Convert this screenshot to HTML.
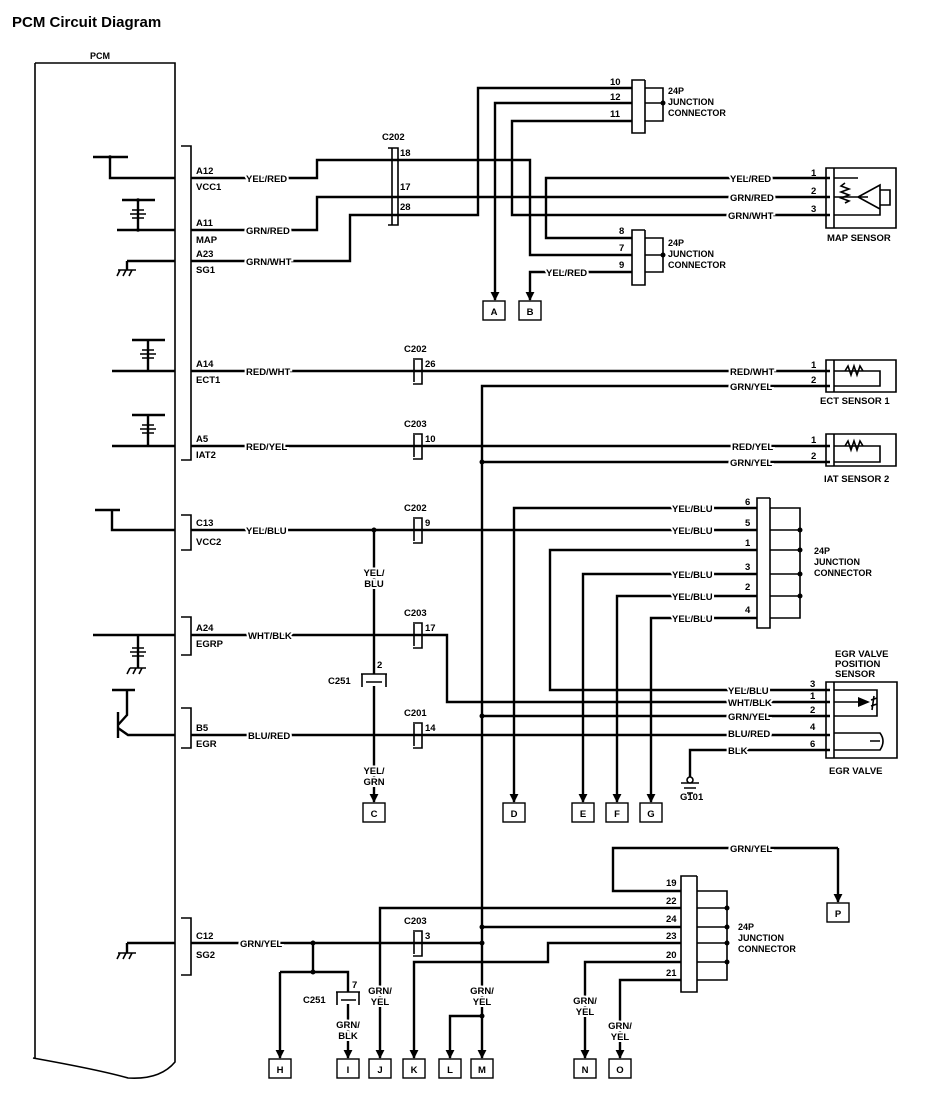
<!DOCTYPE html>
<html><head><meta charset="utf-8"><style>
html,body{margin:0;padding:0;background:#fff}
svg{display:block}
text{font-family:"Liberation Sans",Arial,sans-serif;font-weight:bold;font-size:9.5px;fill:#000}
.l{stroke:#fff;stroke-width:4;paint-order:stroke}
</style></head><body>
<svg width="928" height="1100" viewBox="0 0 928 1100" xmlns="http://www.w3.org/2000/svg">
<defs>
<marker id="ar" viewBox="0 0 10 10" refX="9" refY="5" markerWidth="9" markerHeight="10" orient="auto" markerUnits="userSpaceOnUse"><path d="M0,0 L10,5 L0,10 z"/></marker>
</defs>
<text x="12" y="27" style="font-size:15px">PCM Circuit Diagram</text>
<text x="90" y="59" style="font-size:9px">PCM</text>
<g fill="none" stroke="#000" stroke-width="1.6">
<path d="M35,63 H175 V1062 Q160,1080 128,1078 Q100,1070 33,1058"/>
<path d="M35,63 V1058"/>
<path d="M181,146 H191 V460 H181"/>
<path d="M181,515 H191 V550 H181"/>
<path d="M181,617 H191 V655 H181"/>
<path d="M181,708 H191 V748 H181"/>
<path d="M181,918 H191 V975 H181"/>
</g>
<g fill="none" stroke="#000" stroke-width="2.4">
<path d="M93,157 H128 M110,157 V178 H175"/>
<path d="M122,200 H155 M138,200 V230 M117,230 H175"/>
<path d="M127,261 H175 M127,261 V270"/>
<path d="M132,340 H165 M148,340 V371 M112,371 H175"/>
<path d="M132,415 H165 M148,415 V446 M112,446 H175"/>
<path d="M95,510 H120 M112,510 V530 H175"/>
<path d="M93,635 H175 M138,635 V668"/>
<path d="M112,690 H135 M127,690 V715 L118,725 M118,712 V738 M118,728 L128,735 H175"/>
<path d="M127,943 H175 M127,943 V953"/>
<path d="M191,178 H317 V160 H530 V255 H632"/>
<path d="M191,230 H317 V197 H830"/>
<path d="M191,261 H350 V215 H478 V88 H632"/>
<path d="M632,103 H495 V300" marker-end="url(#ar)"/>
<path d="M632,121 H512 V215 H830"/>
<path d="M632,238 H546 V178 H830"/>
<path d="M632,272 H530 V300" marker-end="url(#ar)"/>
<path d="M191,371 H830"/>
<path d="M830,386 H482 V1058" marker-end="url(#ar)"/>
<path d="M191,446 H830"/>
<path d="M482,462 H830"/>
<path d="M191,530 H757"/>
<path d="M374,530 V674 M374,686 V802" marker-end="url(#ar)"/>
<path d="M757,508 H514 V802" marker-end="url(#ar)"/>
<path d="M757,550 H550 V690 H830"/>
<path d="M757,574 H583 V802" marker-end="url(#ar)"/>
<path d="M757,596 H617 V802" marker-end="url(#ar)"/>
<path d="M757,618 H651 V802" marker-end="url(#ar)"/>
<path d="M191,635 H447 V702 H830"/>
<path d="M191,735 H830"/>
<path d="M482,716 H830"/>
<path d="M830,750 H690 V782"/>
<path d="M838,848 H613 V891 H681"/>
<path d="M838,848 V902" marker-end="url(#ar)"/>
<path d="M191,943 H482"/>
<path d="M313,943 V972 M280,972 H348 V992 M280,972 V1058" marker-end="url(#ar)"/>
<path d="M348,1004 V1058" marker-end="url(#ar)"/>
<path d="M681,908 H380 V1058" marker-end="url(#ar)"/>
<path d="M482,927 H681"/>
<path d="M681,943 H548 V962 H414 V1058" marker-end="url(#ar)"/>
<path d="M681,962 H585 V1058" marker-end="url(#ar)"/>
<path d="M681,980 H620 V1058" marker-end="url(#ar)"/>
<path d="M482,1016 H450 V1058" marker-end="url(#ar)"/>
</g>
<g stroke="#000" stroke-width="1.6" fill="none">
<path d="M132,210 H144 M130,214 H146 M132,218 H144"/>
<path d="M142,350 H154 M140,354 H156 M142,358 H154"/>
<path d="M142,425 H154 M140,429 H156 M142,433 H154"/>
<path d="M132,648 H144 M130,652 H146 M132,656 H144 M130,668 H146"/>
<path d="M118,270 H136 M120,270 L117,276 M126,270 L123,276 M132,270 L129,276"/>
<path d="M118,953 H136 M120,953 L117,959 M126,953 L123,959 M132,953 L129,959"/>
<path d="M130,668 L127,674 M136,668 L133,674 M142,668 L139,674"/>
<path d="M681,783 H699 M684,788 H696 M687,793 H693"/>
<circle cx="690" cy="780" r="3" fill="#fff"/>
</g>
<g stroke="#000" stroke-width="1.6" fill="none">
<path d="M392,148 V225 M388,148 H398 V225 H388"/>
<path d="M414,360 V382 M413,359 H422 V384 H413"/>
<path d="M414,435 V457 M413,434 H422 V459 H413"/>
<path d="M414,519 V541 M413,518 H422 V543 H413"/>
<path d="M414,624 V646 M413,623 H422 V648 H413"/>
<path d="M414,724 V746 M413,723 H422 V748 H413"/>
<path d="M414,932 V954 M413,931 H422 V956 H413"/>
<path d="M361,674 H387 M362,674 V687 M386,674 V687 M366,682 H382"/>
<path d="M336,992 H360 M337,992 V1005 M359,992 V1005 M341,1000 H356"/>
<path d="M645,80 H632 V133 H645 V80 M645,88 H663 V121 H645 M645,103 H663 M645,121 H663"/>
<path d="M645,230 H632 V285 H645 V230 M645,238 H663 V272 H645 M645,255 H663"/>
<path d="M770,498 H757 V628 H770 V498 M770,508 H800 V618 H770 M770,530 H800 M770,550 H800 M770,574 H800 M770,596 H800"/>
<path d="M697,876 H681 V992 H697 V876 M697,891 H727 V980 H697 M697,908 H727 M697,927 H727 M697,943 H727 M697,962 H727"/>
<path d="M834,168 H826 V228 H834 M834,168 H896 V228 H834 Z M834,178 H858 M834,197 H868 M834,215 H880 V185 L858,197 L880,209 M880,190 H890 V205 H880"/>
<path d="M845,183 L841,186 L849,189 L841,192 L849,195 L841,198 L849,201 L845,203"/>
<path d="M834,360 H826 V392 H834 M834,360 H896 V392 H834 Z M834,371 H880 V386 H834 M845,371 L848,366 L851,375 L854,366 L857,375 L860,366 L863,371"/>
<path d="M834,434 H826 V466 H834 M834,434 H896 V466 H834 Z M834,446 H880 V462 H834 M845,446 L848,441 L851,450 L854,441 L857,450 L860,441 L863,446"/>
<path d="M834,682 H826 V758 H834 M834,682 H897 V758 H834 Z M834,690 H877 V716 H834 M834,702 H868 M874,696 L872,710 M877,698 L871,700 M877,704 L871,706 M834,733 H880 Q886,741 880,750 H834 M870,741 H880"/>
</g>
<path d="M858,697 L870,702 L858,707 z"/>
<g>
<circle cx="663" cy="103" r="2.5"/><circle cx="663" cy="255" r="2.5"/>
<circle cx="800" cy="530" r="2.5"/><circle cx="800" cy="550" r="2.5"/><circle cx="800" cy="574" r="2.5"/><circle cx="800" cy="596" r="2.5"/>
<circle cx="727" cy="908" r="2.5"/><circle cx="727" cy="927" r="2.5"/><circle cx="727" cy="943" r="2.5"/><circle cx="727" cy="962" r="2.5"/>
<circle cx="482" cy="462" r="2.5"/><circle cx="374" cy="530" r="2.5"/><circle cx="482" cy="716" r="2.5"/>
<circle cx="313" cy="943" r="2.5"/><circle cx="313" cy="972" r="2.5"/><circle cx="482" cy="927" r="2.5"/><circle cx="482" cy="943" r="2.5"/><circle cx="482" cy="1016" r="2.5"/>
<circle cx="110" cy="157" r="1.8"/><circle cx="138" cy="200" r="1.8"/><circle cx="138" cy="230" r="1.8"/>
</g>
<g fill="#fff" stroke="#000" stroke-width="1.4">
<rect x="483" y="301" width="22" height="19"/><rect x="519" y="301" width="22" height="19"/>
<rect x="363" y="803" width="22" height="19"/><rect x="503" y="803" width="22" height="19"/>
<rect x="572" y="803" width="22" height="19"/><rect x="606" y="803" width="22" height="19"/><rect x="640" y="803" width="22" height="19"/>
<rect x="827" y="903" width="22" height="19"/>
<rect x="269" y="1059" width="22" height="19"/><rect x="337" y="1059" width="22" height="19"/><rect x="369" y="1059" width="22" height="19"/>
<rect x="403" y="1059" width="22" height="19"/><rect x="439" y="1059" width="22" height="19"/><rect x="471" y="1059" width="22" height="19"/>
<rect x="574" y="1059" width="22" height="19"/><rect x="609" y="1059" width="22" height="19"/>
</g>
<g text-anchor="middle">
<text x="494" y="315">A</text><text x="530" y="315">B</text>
<text x="374" y="817">C</text><text x="514" y="817">D</text><text x="583" y="817">E</text><text x="617" y="817">F</text><text x="651" y="817">G</text>
<text x="838" y="917">P</text>
<text x="280" y="1073">H</text><text x="348" y="1073">I</text><text x="380" y="1073">J</text><text x="414" y="1073">K</text><text x="450" y="1073">L</text><text x="482" y="1073">M</text><text x="585" y="1073">N</text><text x="620" y="1073">O</text>
</g>
<text x="196" y="174">A12</text><text x="196" y="190">VCC1</text>
<text x="196" y="226">A11</text><text x="196" y="243">MAP</text>
<text x="196" y="257">A23</text><text x="196" y="273">SG1</text>
<text x="196" y="367">A14</text><text x="196" y="383">ECT1</text>
<text x="196" y="442">A5</text><text x="196" y="458">IAT2</text>
<text x="196" y="526">C13</text><text x="196" y="545">VCC2</text>
<text x="196" y="631">A24</text><text x="196" y="647">EGRP</text>
<text x="196" y="731">B5</text><text x="196" y="747">EGR</text>
<text x="196" y="939">C12</text><text x="196" y="958">SG2</text>
<g class="l">
<text x="246" y="182" class="l">YEL/RED</text>
<text x="246" y="234" class="l">GRN/RED</text>
<text x="246" y="265" class="l">GRN/WHT</text>
<text x="246" y="375" class="l">RED/WHT</text>
<text x="246" y="450" class="l">RED/YEL</text>
<text x="246" y="534" class="l">YEL/BLU</text>
<text x="248" y="639" class="l">WHT/BLK</text>
<text x="248" y="739" class="l">BLU/RED</text>
<text x="240" y="947" class="l">GRN/YEL</text>
<text x="730" y="182" class="l">YEL/RED</text>
<text x="730" y="201" class="l">GRN/RED</text>
<text x="728" y="219" class="l">GRN/WHT</text>
<text x="546" y="276" class="l">YEL/RED</text>
<text x="730" y="375" class="l">RED/WHT</text>
<text x="730" y="390" class="l">GRN/YEL</text>
<text x="732" y="450" class="l">RED/YEL</text>
<text x="730" y="466" class="l">GRN/YEL</text>
<text x="672" y="512" class="l">YEL/BLU</text>
<text x="672" y="534" class="l">YEL/BLU</text>
<text x="672" y="578" class="l">YEL/BLU</text>
<text x="672" y="600" class="l">YEL/BLU</text>
<text x="672" y="622" class="l">YEL/BLU</text>
<text x="728" y="694" class="l">YEL/BLU</text>
<text x="728" y="706" class="l">WHT/BLK</text>
<text x="728" y="720" class="l">GRN/YEL</text>
<text x="728" y="737" class="l">BLU/RED</text>
<text x="728" y="754" class="l">BLK</text>
<text x="730" y="852" class="l">GRN/YEL</text>
</g>
<g text-anchor="middle" class="l">
<text x="374" y="576" class="l">YEL/</text><text x="374" y="587" class="l">BLU</text>
<text x="374" y="774" class="l">YEL/</text><text x="374" y="785" class="l">GRN</text>
<text x="348" y="1028" class="l">GRN/</text><text x="348" y="1039" class="l">BLK</text>
<text x="380" y="994" class="l">GRN/</text><text x="380" y="1005" class="l">YEL</text>
<text x="482" y="994" class="l">GRN/</text><text x="482" y="1005" class="l">YEL</text>
<text x="585" y="1004" class="l">GRN/</text><text x="585" y="1015" class="l">YEL</text>
<text x="620" y="1029" class="l">GRN/</text><text x="620" y="1040" class="l">YEL</text>
</g>
<text x="382" y="140">C202</text><text x="400" y="156">18</text><text x="400" y="190">17</text><text x="400" y="210">28</text>
<text x="404" y="352">C202</text><text x="425" y="367">26</text>
<text x="404" y="427">C203</text><text x="425" y="442">10</text>
<text x="404" y="511">C202</text><text x="425" y="526">9</text>
<text x="404" y="616">C203</text><text x="425" y="631">17</text>
<text x="404" y="716">C201</text><text x="425" y="731">14</text>
<text x="404" y="924">C203</text><text x="425" y="939">3</text>
<text x="377" y="668">2</text><text x="328" y="684">C251</text>
<text x="352" y="988">7</text><text x="303" y="1003">C251</text>
<text x="610" y="85">10</text><text x="610" y="100">12</text><text x="610" y="117">11</text>
<text x="668" y="94" style="font-size:9px">24P</text><text x="668" y="105" style="font-size:9px">JUNCTION</text><text x="668" y="116" style="font-size:9px">CONNECTOR</text>
<text x="619" y="234">8</text><text x="619" y="251">7</text><text x="619" y="268">9</text>
<text x="668" y="246" style="font-size:9px">24P</text><text x="668" y="257" style="font-size:9px">JUNCTION</text><text x="668" y="268" style="font-size:9px">CONNECTOR</text>
<text x="811" y="176">1</text><text x="811" y="194">2</text><text x="811" y="212">3</text>
<text x="827" y="241">MAP SENSOR</text>
<text x="811" y="368">1</text><text x="811" y="383">2</text><text x="820" y="404">ECT SENSOR 1</text>
<text x="811" y="443">1</text><text x="811" y="459">2</text><text x="824" y="482">IAT SENSOR 2</text>
<text x="745" y="505">6</text><text x="745" y="526">5</text><text x="745" y="546">1</text><text x="745" y="570">3</text><text x="745" y="590">2</text><text x="745" y="613">4</text>
<text x="814" y="554" style="font-size:9px">24P</text><text x="814" y="565" style="font-size:9px">JUNCTION</text><text x="814" y="576" style="font-size:9px">CONNECTOR</text>
<text x="810" y="687">3</text><text x="810" y="699">1</text><text x="810" y="713">2</text><text x="810" y="730">4</text><text x="810" y="747">6</text>
<text x="835" y="657">EGR VALVE</text><text x="835" y="667">POSITION</text><text x="835" y="677">SENSOR</text>
<text x="829" y="774">EGR VALVE</text>
<text x="680" y="800">G101</text>
<text x="666" y="886">19</text><text x="666" y="904">22</text><text x="666" y="922">24</text><text x="666" y="939">23</text><text x="666" y="958">20</text><text x="666" y="976">21</text>
<text x="738" y="930" style="font-size:9px">24P</text><text x="738" y="941" style="font-size:9px">JUNCTION</text><text x="738" y="952" style="font-size:9px">CONNECTOR</text>
</svg>
</body></html>
